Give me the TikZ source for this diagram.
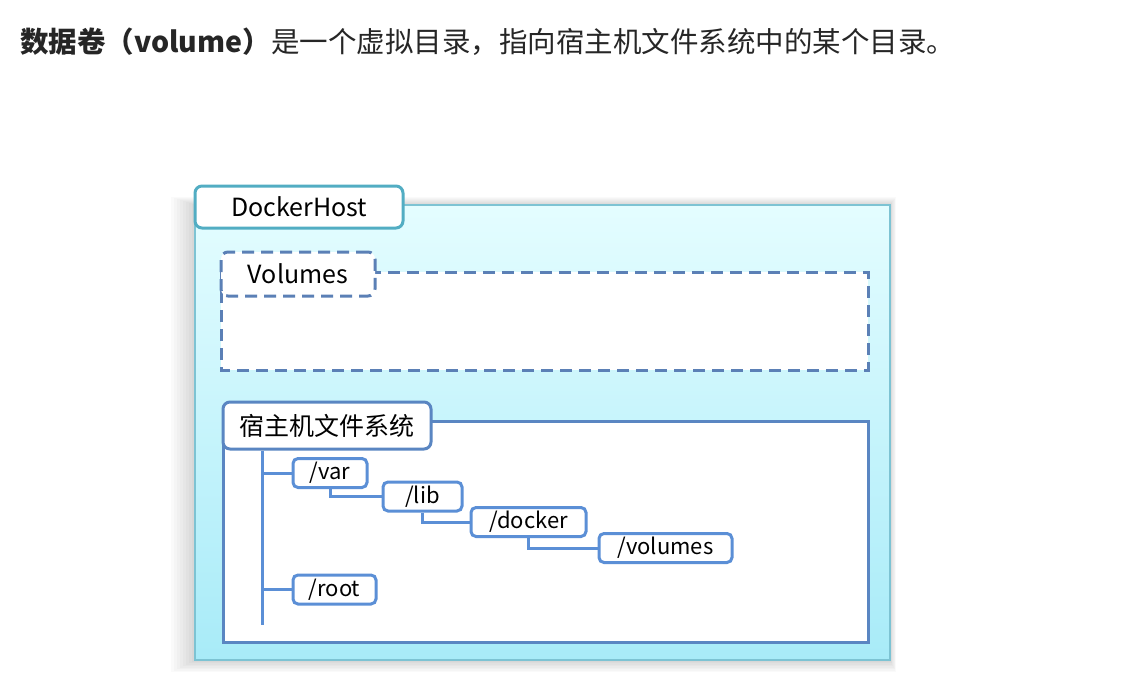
\documentclass[tikz,border=0pt]{standalone}
\usepackage{fontspec}
\setmainfont{Noto Sans CJK SC}
\usetikzlibrary{positioning}
\definecolor{hostline}{HTML}{52ADC3}
\definecolor{hostedge}{HTML}{7DC3D3}
\definecolor{hosttop}{HTML}{E4FDFF}
\definecolor{hostbot}{HTML}{A8EBF8}
\definecolor{volline}{HTML}{5B80B6}
\definecolor{fsline}{HTML}{5A86C2}
\definecolor{dirblue}{HTML}{5B8FD6}

\begin{document}
\begin{tikzpicture}[x=1pt, y=-1pt,
  lbl/.style={draw, fill=white, rounded corners=7pt, line width=3pt, inner sep=0pt, font=\fontsize{25}{30}\selectfont},
  dir/.style={draw=dirblue, fill=white, rounded corners=5pt, line width=3pt, inner sep=0pt, minimum height=29pt, font=\fontsize{22}{26}\selectfont},
  tree/.style={dirblue, line width=3pt},
  dashline/.style={dash pattern=on 12pt off 7pt}]
\useasboundingbox[fill=white] (0,0) rectangle (1124,674);

\node[anchor=west, inner sep=0pt, text=black!85, font=\fontsize{28.5}{34}\selectfont] (title) at (20,42)
  {\textbf{数据卷（volume）}是一个虚拟目录，指向宿主机文件系统中的某个目录。};

% docker host, soft shadow first
\foreach \s in {3,6,...,24}
  \fill[black, opacity=0.018] (195-\s,205-\s/3) rectangle (890+\s/4,660+\s/2);
\draw[draw=hostedge, line width=1.2pt, top color=hosttop, bottom color=hostbot] (195,205) rectangle (890,660);
\node[lbl, draw=hostline, minimum width=208pt, minimum height=42pt] (host) at (299,207) {DockerHost};

% volumes
\draw[volline, fill=white, line width=3pt, dashline] (221,272) rectangle (868,370);
\node[lbl, draw=volline, dashline, minimum width=154pt, minimum height=44pt] (vols) at (298,274) {Volumes};

% host file system
\draw[fsline, fill=white, line width=3pt] (223,421) rectangle (868,642);
\node[lbl, draw=fsline, minimum width=208pt, minimum height=47pt] (fs) at (327,425.5) {宿主机文件系统};

\node[dir, minimum width=74pt] (var) at (330,473) {/var};
\node[dir, minimum width=79pt] (lib) at (422.5,496.5) {/lib};
\node[dir, minimum width=115pt] (docker) at (528.5,522) {/docker};
\node[dir, minimum width=133pt] (volumes) at (665.5,548) {/volumes};
\node[dir, minimum width=83pt] (root) at (334.5,589.5) {/root};

\coordinate (trunkend) at (262,625);
\draw[tree] (fs.south -| trunkend) -- (trunkend);
\draw[tree] (var.west) -- (var.west -| trunkend);
\draw[tree] (root.west) -- (root.west -| trunkend);
\draw[tree] (var.south) |- (lib.west);
\draw[tree] (lib.south) |- (docker.west);
\draw[tree] (docker.south) |- (volumes.west);
\end{tikzpicture}
\end{document}
